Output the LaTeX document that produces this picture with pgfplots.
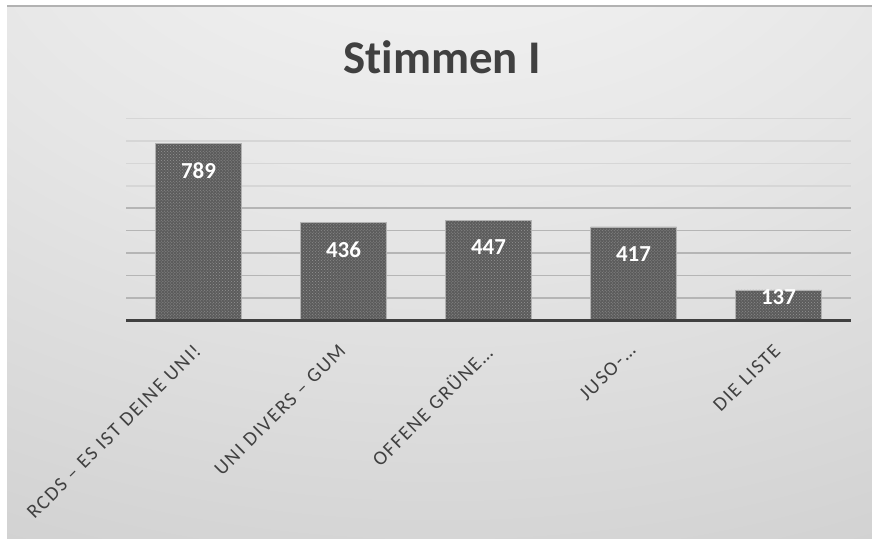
\documentclass[border=0pt]{standalone}
\usepackage{pgfplots}
\pgfplotsset{compat=1.18}
\usepackage{fontspec}
\setmainfont{Carlito}[Ligatures={NoCommon}]
\newfontfamily\lblfont{Carlito}[LetterSpace=9, Ligatures={NoCommon}]
\usetikzlibrary{patterns}
\definecolor{txt}{HTML}{404040}
\pgfdeclareradialshading{bgshade}{\pgfpoint{0bp}{45bp}}{color(0bp)=(white!97!black); color(30bp)=(white!90!black); color(60bp)=(white!81!black); color(90bp)=(white!77!black); color(120bp)=(white!73!black)}
\begin{document}
\begin{tikzpicture}[x=1bp,y=1bp]
\useasboundingbox (0,0) rectangle (872,546);
\fill[white] (0,0) rectangle (872,546);
\shade[shading=bgshade] (7,7) rectangle (872,540);
\draw[black!30, line width=1.2bp] (7,540) -- (872,540);
\node[font=\fontsize{47}{50}\selectfont\bfseries, text=txt] at (442,489) {Stimmen I};
\begin{axis}[
  at={(198.5bp,225.3bp)}, anchor=origin,
  scale only axis, width=725bp, height=202.4bp,
  xmin=-0.5, xmax=4.5, ymin=0, ymax=900,
  axis line style={draw=none},
  ybar, bar width=86bp,
  xtick={0,1,2,3,4},
  xticklabels={RCDS – ES IST DEINE UNI!, UNI DIVERS – GUM, OFFENE GRÜNE…, JUSO-…, DIE LISTE},
  xticklabel style={yshift=-22bp, xshift=-6bp, rotate=45, anchor=north east, inner sep=0pt, font=\lblfont\fontsize{20}{22}\selectfont, text=txt},
  ytick={100,200,300,400,500},
  minor ytick={600,700,800,900},
  yticklabels={},
  major tick length=0pt, minor tick length=0pt,
  ymajorgrids, yminorgrids,
  major grid style={black!29, line width=1.5bp},
  minor grid style={black!16, line width=1.5bp},
  /pgf/number format/assume math mode=true,
  nodes near coords,
  nodes near coords style={font=\fontsize{23}{25}\selectfont\bfseries, text=white, anchor=center},
  clip=false,
]
\addplot[bar shift=0pt, fill=black!64, draw=white!70!black, line width=0.6bp,
  postaction={pattern=crosshatch dots, pattern color=black!42},
  nodes near coords style={yshift=-27bp}]
  coordinates {(0,789) (1,436) (2,447) (3,417)};
\addplot[bar shift=0pt, fill=black!64, draw=white!70!black, line width=0.6bp,
  postaction={pattern=crosshatch dots, pattern color=black!42},
  nodes near coords style={yshift=-7bp}]
  coordinates {(4,137)};
\draw[txt, line width=3bp] (axis cs:-0.5,0) -- (axis cs:4.5,0);
\end{axis}
\end{tikzpicture}
\end{document}
